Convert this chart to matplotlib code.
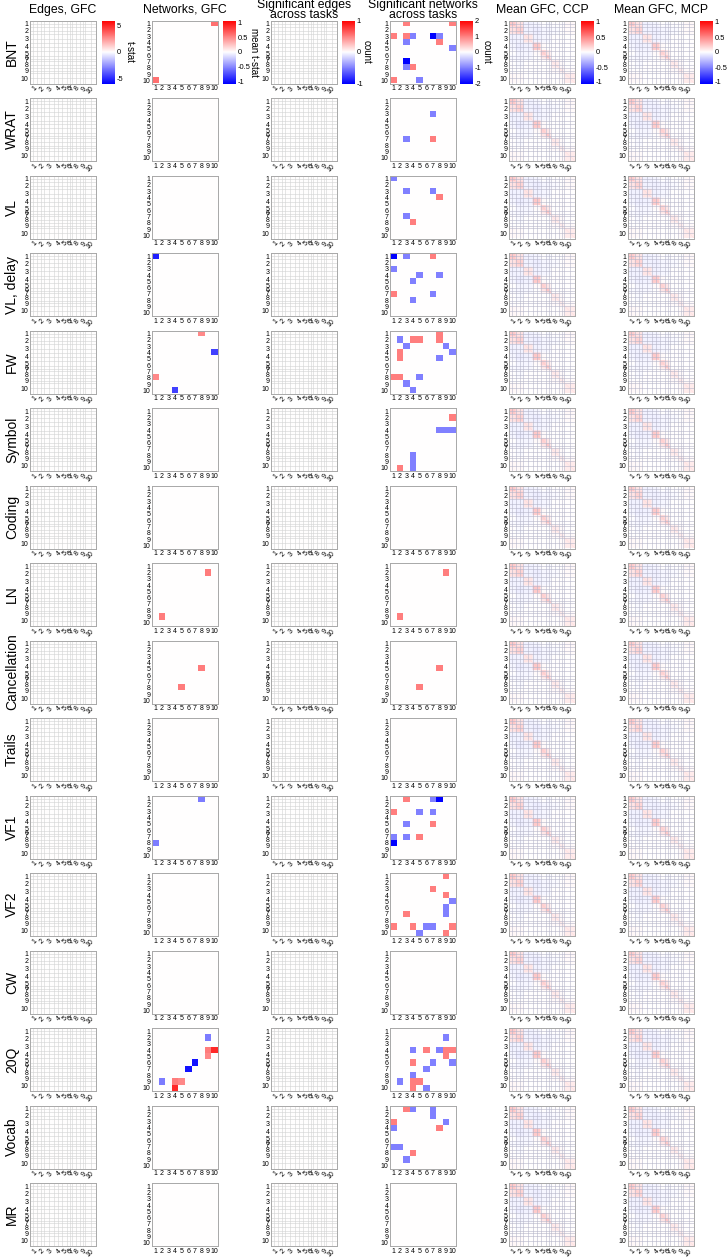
import numpy as np
import matplotlib
matplotlib.use('Agg')
import matplotlib.pyplot as plt
from matplotlib.colors import Normalize
from matplotlib.cm import ScalarMappable

plt.rcParams['font.family'] = ['Liberation Sans', 'DejaVu Sans']

# ---------------- data ----------------
tasks = ["BNT", "WRAT", "VL", "VL, delay", "FW", "Symbol", "Coding", "LN",
         "Cancellation", "Trails", "VF1", "VF2", "CW", "20Q", "Vocab", "MR"]
col_titles = ["Edges, GFC", "Networks, GFC", "Significant edges\nacross tasks",
              "Significant networks\nacross tasks", "Mean GFC, CCP", "Mean GFC, MCP"]
net_labels = ["1", "2", "3", "4", "5", "6", "7", "8", "9", "10"]
net_sizes = [36, 43, 50, 43, 29, 18, 11, 43, 29, 58]   # nodes per network

# Networks, GFC: (row, col, mean t-stat) upper triangle, 1-indexed
net_gfc = {
    "BNT": [(1, 10, 0.6)],
    "VL, delay": [(1, 1, -0.95)],
    "FW": [(1, 8, 0.5), (4, 10, -0.8)],
    "LN": [(2, 9, 0.55)],
    "Cancellation": [(5, 8, 0.55)],
    "VF1": [(1, 8, -0.55)],
    "20Q": [(2, 9, -0.55), (4, 9, 0.55), (4, 10, 0.9), (5, 9, 0.5), (6, 7, -1.0)],
}

# Significant networks across tasks: (row, col, count)
sig_net = {
    "BNT": [(1, 3, 1), (1, 10, 1), (3, 3, 1), (3, 4, -1), (3, 7, -2), (3, 8, -1),
            (4, 8, 1), (5, 10, -1)],
    "WRAT": [(3, 7, -1), (7, 7, 1)],
    "VL": [(1, 1, -1), (3, 3, -1), (3, 7, -1), (4, 8, 1)],
    "VL, delay": [(1, 1, -2), (1, 3, -1), (1, 7, 1), (4, 5, -1), (4, 8, -1), (7, 7, -1)],
    "FW": [(1, 8, 1), (2, 2, -1), (2, 4, 1), (2, 5, 1), (2, 8, 1), (3, 3, -1),
           (3, 9, -1), (4, 10, -1), (5, 8, -1)],
    "Symbol": [(2, 10, 1), (4, 8, -1), (4, 9, -1), (4, 10, -1)],
    "LN": [(2, 9, 1)],
    "Cancellation": [(5, 8, 1)],
    "VF1": [(1, 3, 1), (1, 7, -1), (1, 8, -2), (3, 5, -1), (3, 7, -1), (5, 7, 1)],
    "VF2": [(1, 9, 1), (3, 7, 1), (4, 9, 1), (5, 10, -1), (6, 9, -1), (7, 9, -1), (9, 10, 1)],
    "20Q": [(2, 9, -1), (4, 4, -1), (4, 6, 1), (4, 8, -1), (4, 9, 1), (4, 10, 1),
            (5, 9, 1), (6, 7, -1), (6, 10, -1)],
    "Vocab": [(1, 3, 1), (1, 4, -1), (1, 7, -1), (2, 7, -1), (3, 9, -1), (4, 8, 1)],
}

# Edge-level results: no significant edges in any task (all zero)
edge_tstat_value = 0.0
sig_edge_value = 0.0

# Mean GFC, network-block averages
gfc_ccp_blocks = np.array([
    [0.22, 0.12, -0.05, -0.04, 0.00, -0.02, -0.02, 0.00, 0.00, 0.03],
    [0.12, 0.18, -0.05, -0.07, -0.04, -0.04, -0.03, -0.02, 0.00, 0.02],
    [-0.05, -0.05, 0.10, -0.05, -0.04, -0.03, -0.03, 0.00, 0.00, 0.00],
    [-0.04, -0.07, -0.05, 0.22, 0.02, 0.00, 0.00, 0.00, 0.00, 0.00],
    [0.00, -0.04, -0.04, 0.02, 0.18, 0.10, 0.05, 0.00, 0.00, 0.00],
    [-0.02, -0.04, -0.03, 0.00, 0.10, 0.22, 0.10, 0.00, 0.00, 0.00],
    [-0.02, -0.03, -0.03, 0.00, 0.05, 0.10, 0.18, 0.00, 0.00, 0.00],
    [0.00, -0.02, 0.00, 0.00, 0.00, 0.00, 0.00, 0.08, 0.02, 0.00],
    [0.00, 0.00, 0.00, 0.00, 0.00, 0.00, 0.00, 0.02, 0.06, 0.02],
    [0.03, 0.02, 0.00, 0.00, 0.00, 0.00, 0.00, 0.00, 0.02, 0.08],
])
gfc_mcp_blocks = np.array([
    [0.21, 0.11, -0.05, -0.04, 0.00, -0.02, -0.02, 0.00, 0.00, 0.03],
    [0.11, 0.17, -0.05, -0.06, -0.04, -0.04, -0.03, -0.02, 0.00, 0.02],
    [-0.05, -0.05, 0.10, -0.05, -0.04, -0.03, -0.03, 0.00, 0.00, 0.00],
    [-0.04, -0.06, -0.05, 0.21, 0.02, 0.00, 0.00, 0.00, 0.00, 0.00],
    [0.00, -0.04, -0.04, 0.02, 0.17, 0.10, 0.05, 0.00, 0.00, 0.00],
    [-0.02, -0.04, -0.03, 0.00, 0.10, 0.21, 0.10, 0.00, 0.00, 0.00],
    [-0.02, -0.03, -0.03, 0.00, 0.05, 0.10, 0.17, 0.00, 0.00, 0.00],
    [0.00, -0.02, 0.00, 0.00, 0.00, 0.00, 0.00, 0.08, 0.02, 0.00],
    [0.00, 0.00, 0.00, 0.00, 0.00, 0.00, 0.00, 0.02, 0.06, 0.02],
    [0.03, 0.02, 0.00, 0.00, 0.00, 0.00, 0.00, 0.00, 0.02, 0.08],
])
node_self_corr = 0.35

# colour ranges
clims = [6.0, 1.08, 1.0, 2.0, 1.05, 1.05]
cbar_ticks = [[-5, 0, 5], [-1, -0.5, 0, 0.5, 1], [-1, 0, 1], [-2, -1, 0, 1, 2],
              [-1, -0.5, 0, 0.5, 1], [-1, -0.5, 0, 0.5, 1]]
cbar_labels = ["t-stat", "mean t-stat", "count", "count", "", ""]

# ---------------- helpers ----------------
n_nodes = sum(net_sizes)
bounds = np.concatenate([[0], np.cumsum(net_sizes)]) - 0.5
centers = (bounds[:-1] + bounds[1:]) / 2


def net_matrix(entries):
    m = np.zeros((10, 10))
    for i, j, v in entries:
        m[i - 1, j - 1] = v
        m[j - 1, i - 1] = v
    return m


def node_matrix(blocks):
    m = np.repeat(np.repeat(blocks, net_sizes, axis=0), net_sizes, axis=1)
    np.fill_diagonal(m, node_self_corr)
    return m


W, H = 727, 1257
fig = plt.figure(figsize=(W / 100, H / 100), dpi=100)

col_left = [30, 152, 271, 390, 509, 628]
pw, ph = 66, 63
row_top0, row_pitch = 20.5, 77.5
cb_left = [102, 223, 342, 460, 581, 700]
cb_w = 13
cb_label_x = [130, 254, 367, 487]

spine_col = '#a8a8a8'
tick_fs = 5.0


def ax_at(x, y, w, h):
    return fig.add_axes([x / W, 1 - (y + h) / H, w / W, h / H])


def style_spines(ax):
    for s in ax.spines.values():
        s.set_color(spine_col)
        s.set_linewidth(0.7)


def edge_panel(ax, mat, vlim, gcol='#d2d2d2', glw=0.4):
    ax.imshow(mat, cmap='bwr', vmin=-vlim, vmax=vlim, aspect='auto',
              interpolation='antialiased')
    lines = list(bounds[1:-1]) + [centers[0], centers[1], centers[2], centers[3],
                                  centers[7], centers[8], centers[9]]
    for p in lines:
        ax.axvline(p, color=gcol, lw=glw)
        ax.axhline(p, color=gcol, lw=glw)
    ax.set_xlim(-0.5, n_nodes - 0.5)
    ax.set_ylim(n_nodes - 0.5, -0.5)
    ax.set_xticks(centers)
    ax.set_yticks(centers)
    ax.set_xticklabels(net_labels, rotation=45, ha='right', rotation_mode='anchor',
                       fontsize=tick_fs)
    ax.set_yticklabels(net_labels, fontsize=tick_fs)
    ax.tick_params(length=0, pad=1.2)
    style_spines(ax)


def net_panel(ax, mat, vlim):
    ax.imshow(mat, cmap='bwr', vmin=-vlim, vmax=vlim, aspect='auto',
              interpolation='nearest')
    ax.set_xticks(range(10))
    ax.set_yticks(range(10))
    ax.set_xticklabels(net_labels, fontsize=tick_fs)
    ax.set_yticklabels(net_labels, fontsize=tick_fs)
    ax.tick_params(length=0, pad=1.2)
    style_spines(ax)


edge_zero = np.full((n_nodes, n_nodes), edge_tstat_value)
sig_edge_zero = np.full((n_nodes, n_nodes), sig_edge_value)
ccp = node_matrix(gfc_ccp_blocks)
mcp = node_matrix(gfc_mcp_blocks)

for r, task in enumerate(tasks):
    top = row_top0 + r * row_pitch
    axes = [ax_at(col_left[c], top, pw, ph) for c in range(6)]
    edge_panel(axes[0], edge_zero, clims[0])
    net_panel(axes[1], net_matrix(net_gfc.get(task, [])), clims[1])
    edge_panel(axes[2], sig_edge_zero, clims[2])
    net_panel(axes[3], net_matrix(sig_net.get(task, [])), clims[3])
    edge_panel(axes[4], ccp, clims[4], gcol='#b4b4c8', glw=0.4)
    edge_panel(axes[5], mcp, clims[5], gcol='#b4b4c8', glw=0.4)
    fig.text(12 / W, 1 - (top + ph / 2) / H, task, rotation=90, ha='center',
             va='center', fontsize=10)
    if r == 0:
        for c in range(6):
            fig.text((col_left[c] + pw / 2) / W, 1 - 10 / H, col_titles[c],
                     ha='center', va='center', fontsize=8.8, linespacing=0.85)
            cax = ax_at(cb_left[c], top, cb_w, ph)
            sm = ScalarMappable(norm=Normalize(-clims[c], clims[c]), cmap='bwr')
            cb = fig.colorbar(sm, cax=cax, ticks=cbar_ticks[c])
            cb.outline.set_visible(False)
            cb.ax.tick_params(labelsize=5.4, length=0, pad=1.0)
            cb.ax.set_yticklabels([f"{t:g}" for t in cbar_ticks[c]])
            if cbar_labels[c]:
                fig.text(cb_label_x[c] / W, 1 - (top + ph / 2) / H, cbar_labels[c],
                         rotation=-90, ha='center', va='center', fontsize=7)

fig.savefig('out.png', dpi=100)
